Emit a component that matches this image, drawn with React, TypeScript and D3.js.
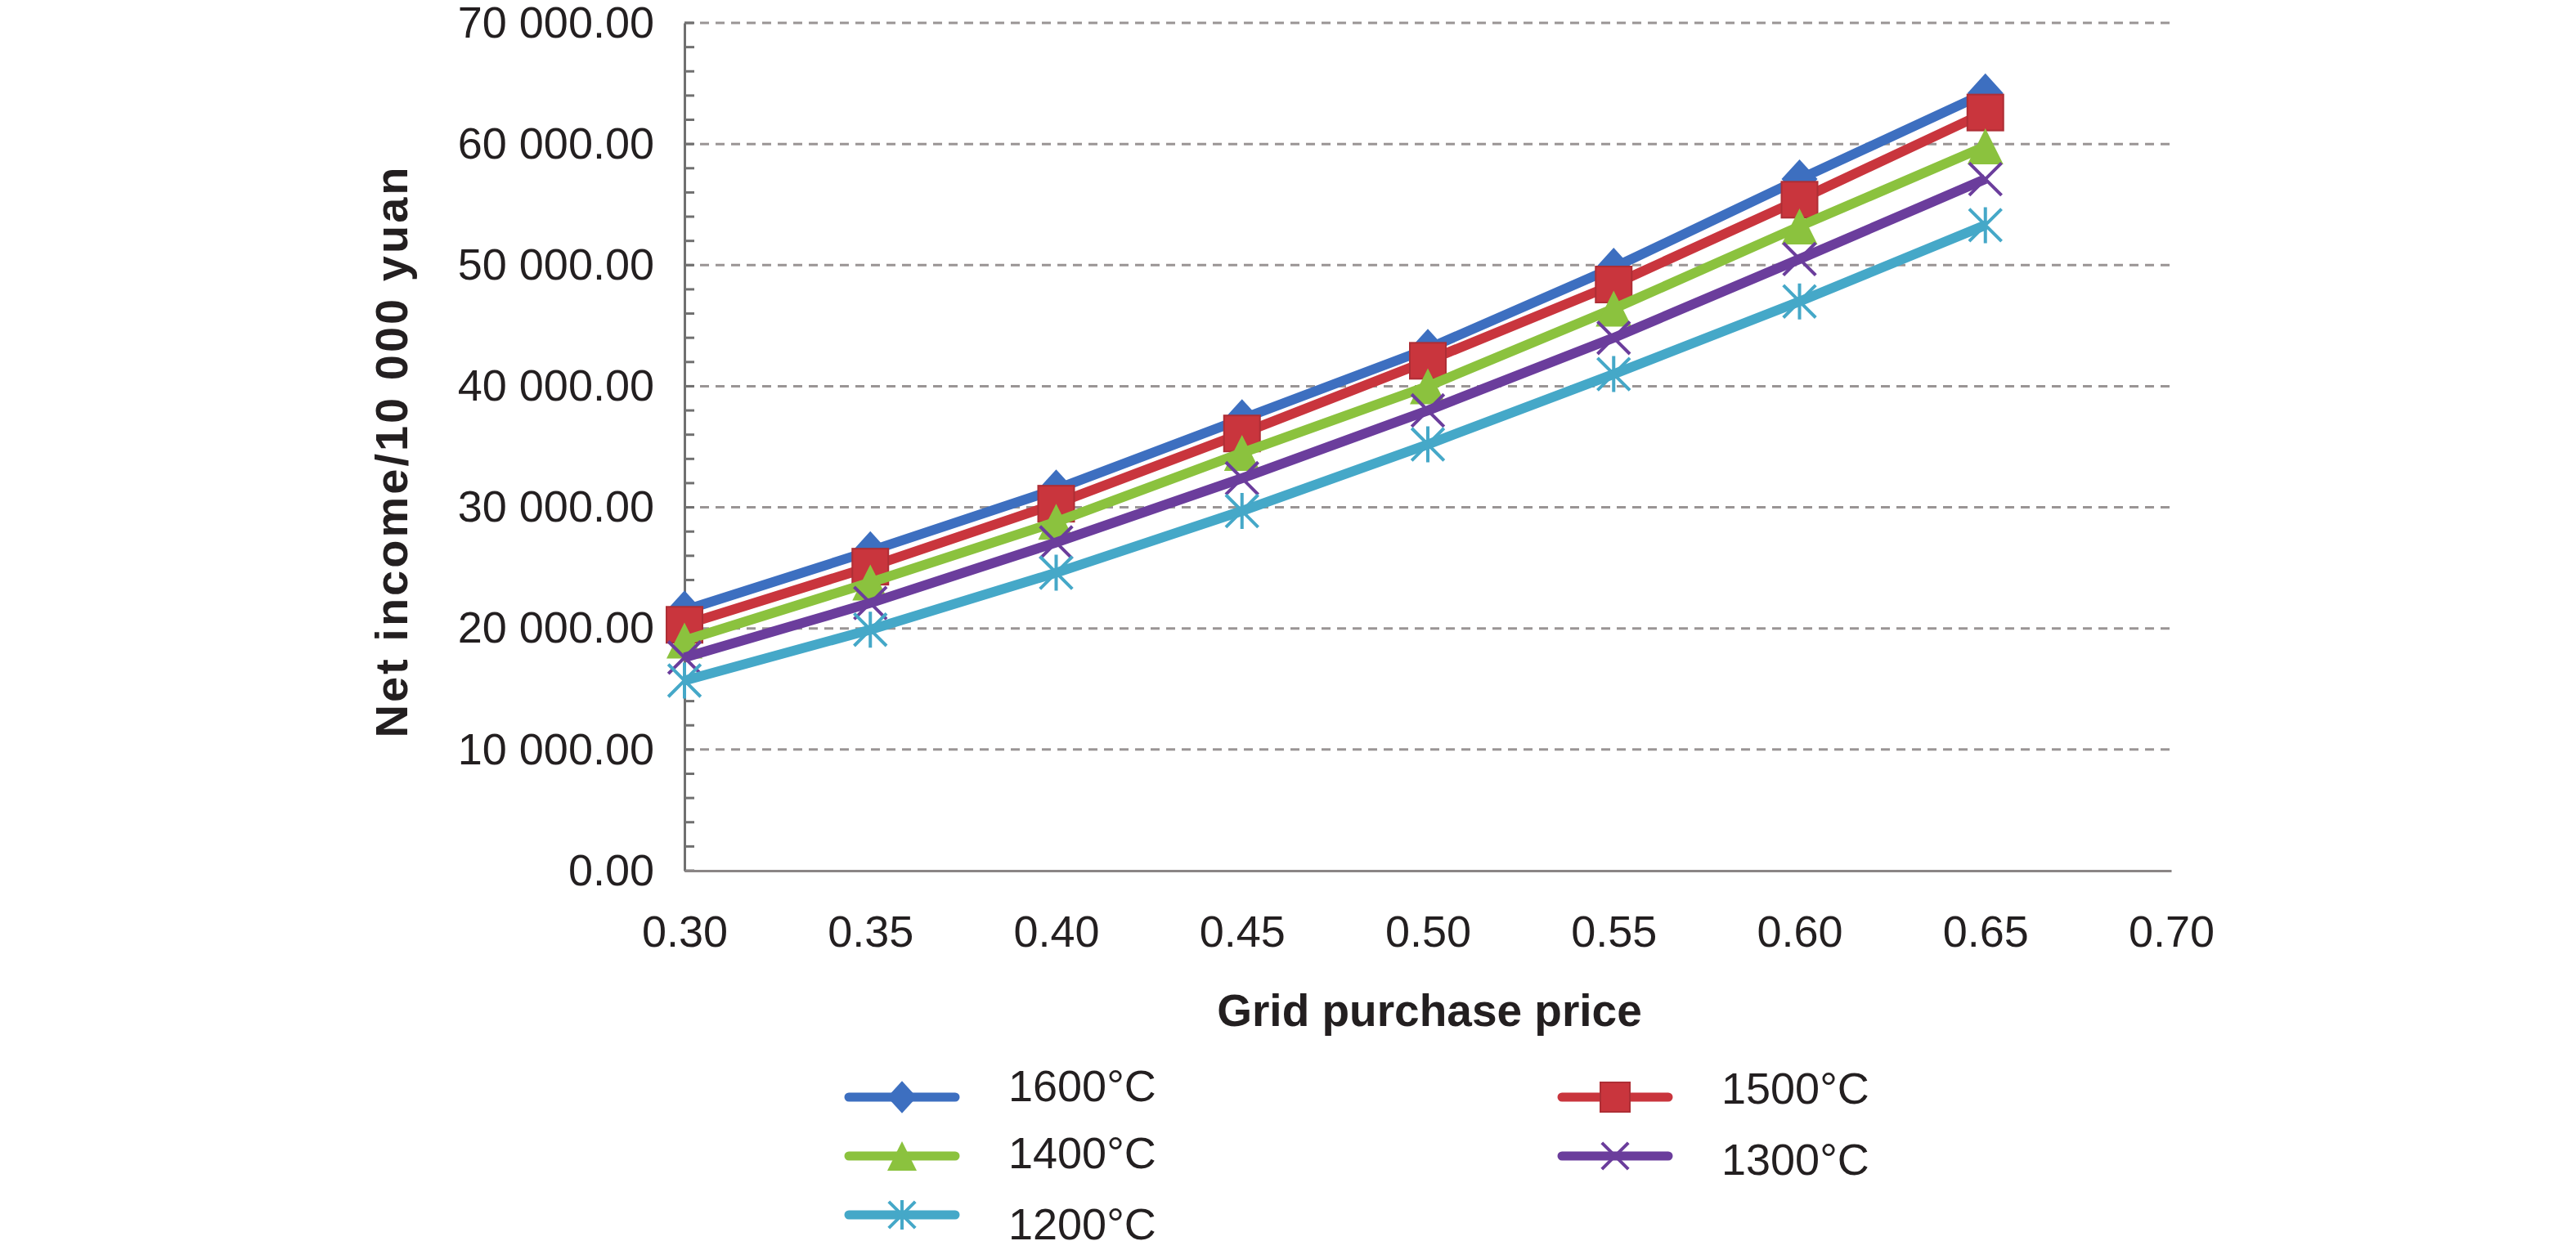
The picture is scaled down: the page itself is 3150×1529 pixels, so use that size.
import React, { useEffect, useRef } from 'react';
import * as d3 from 'd3';

const prices = [0.30, 0.35, 0.40, 0.45, 0.50, 0.55, 0.60, 0.65];
const xTicks = [0.30, 0.35, 0.40, 0.45, 0.50, 0.55, 0.60, 0.65, 0.70];
const yTicks = [0, 10000, 20000, 30000, 40000, 50000, 60000, 70000];

const temps = ['1600°C', '1500°C', '1400°C', '1300°C', '1200°C'];
const income1600 = [21500, 26400, 31500, 37300, 43100, 49800, 57100, 64200];
const income1500 = [20300, 25100, 30300, 36100, 42100, 48400, 55400, 62600];
const income1400 = [19000, 23800, 28800, 34500, 40000, 46400, 53200, 59800];
const income1300 = [17600, 22100, 27100, 32400, 38000, 44000, 50500, 57100];
const income1200 = [15700, 19900, 24600, 29700, 35200, 41000, 47000, 53300];

const colors = ['#3d6fc0', '#c9353d', '#8bc23e', '#6b3d9c', '#45a8c8'];
const shapes = ['diamond', 'square', 'triangle', 'cross', 'star'];

const FONT = '"Liberation Sans", Arial, sans-serif';

const App = () => {
  const ref = useRef(null);

  useEffect(() => {
    draw();
  }, []);

  const drawMarker = (g, shape, color, x, y, s) => {
    const h = s / 2;
    if (shape === 'diamond') {
      g.append('path')
        .attr('d', `M${x},${y - h * 1.1} L${x + h},${y} L${x},${y + h * 1.1} L${x - h},${y} Z`)
        .attr('fill', color);
    } else if (shape === 'square') {
      g.append('rect')
        .attr('x', x - h).attr('y', y - h)
        .attr('width', s).attr('height', s)
        .attr('fill', color)
        .attr('stroke', d3.color(color).darker(0.4))
        .attr('stroke-width', 2);
    } else if (shape === 'triangle') {
      g.append('path')
        .attr('d', `M${x},${y - h} L${x + h},${y + h} L${x - h},${y + h} Z`)
        .attr('fill', color);
    } else {
      const k = h * 0.9;
      let d = `M${x - k},${y - k} L${x + k},${y + k} M${x - k},${y + k} L${x + k},${y - k}`;
      if (shape === 'star') d += ` M${x},${y - h} L${x},${y + h}`;
      g.append('path')
        .attr('d', d)
        .attr('stroke', color)
        .attr('stroke-width', 4)
        .attr('fill', 'none');
    }
  };

  const draw = () => {
    const svg = d3.select(ref.current);
    svg.selectAll('*').remove();

    const left = 837, right = 2655, top = 28, bottom = 1065;

    const x = d3.scaleLinear().domain([0.30, 0.70]).range([left, right]);
    const y = d3.scaleLinear().domain([0, 70000]).range([bottom, top]);

    // grid
    svg.append('g')
      .selectAll('line')
      .data(yTicks.filter(t => t > 0))
      .join('line')
      .attr('x1', left).attr('x2', right)
      .attr('y1', d => y(d)).attr('y2', d => y(d))
      .attr('stroke', '#9a9595')
      .attr('stroke-width', 3)
      .attr('stroke-dasharray', '11,8');

    // minor ticks on y axis
    const minor = d3.range(0, 70001, 2000);
    svg.append('g')
      .selectAll('line')
      .data(minor)
      .join('line')
      .attr('x1', left).attr('x2', left + 12)
      .attr('y1', d => y(d)).attr('y2', d => y(d))
      .attr('stroke', '#707070')
      .attr('stroke-width', 3);

    // y axis
    const yAxis = d3.axisLeft(y)
      .tickValues(yTicks)
      .tickSize(0)
      .tickPadding(37)
      .tickFormat(d => d3.format(',.2f')(d).replace(/,/g, ' '));
    const gy = svg.append('g').attr('transform', `translate(${left},0)`).call(yAxis);
    gy.select('.domain').attr('stroke', '#707070').attr('stroke-width', 3);
    gy.selectAll('text')
      .attr('font-family', FONT)
      .attr('font-size', 54)
      .attr('fill', '#231f20');

    // x axis
    const xAxis = d3.axisBottom(x)
      .tickValues(xTicks)
      .tickSize(0)
      .tickPadding(55)
      .tickFormat(d3.format('.2f'));
    const gx = svg.append('g').attr('transform', `translate(0,${bottom})`).call(xAxis);
    gx.select('.domain').attr('stroke', '#8a8585').attr('stroke-width', 3);
    gx.selectAll('text')
      .attr('font-family', FONT)
      .attr('font-size', 54)
      .attr('fill', '#231f20');

    // axis titles
    svg.append('text')
      .attr('transform', 'translate(478,552) rotate(-90)')
      .attr('text-anchor', 'middle')
      .attr('dominant-baseline', 'central')
      .attr('font-family', FONT)
      .attr('font-weight', 'bold')
      .attr('font-size', 56)
      .attr('letter-spacing', 3)
      .attr('fill', '#231f20')
      .text('Net income/10 000 yuan');

    svg.append('text')
      .attr('x', 1748).attr('y', 1236)
      .attr('text-anchor', 'middle')
      .attr('dominant-baseline', 'central')
      .attr('font-family', FONT)
      .attr('font-weight', 'bold')
      .attr('font-size', 55)
      .attr('fill', '#231f20')
      .text('Grid purchase price');

    // series
    const series = [income1600, income1500, income1400, income1300, income1200];
    const line = d3.line().x((d, i) => x(prices[i])).y(d => y(d));

    series.forEach((vals, si) => {
      const g = svg.append('g');
      g.append('path')
        .datum(vals)
        .attr('d', line)
        .attr('fill', 'none')
        .attr('stroke', colors[si])
        .attr('stroke-width', 12)
        .attr('stroke-linejoin', 'round');
      vals.forEach((v, i) => drawMarker(g, shapes[si], colors[si], x(prices[i]), y(v), 44));
    });

    // legend
    const legendPos = [
      { lx: 1038, ly: 1342, ty: 1328 },
      { lx: 1910, ly: 1342, ty: 1331 },
      { lx: 1038, ly: 1414, ty: 1410 },
      { lx: 1910, ly: 1414, ty: 1418 },
      { lx: 1038, ly: 1486, ty: 1497 },
    ];
    temps.forEach((t, i) => {
      const p = legendPos[i];
      const g = svg.append('g');
      g.append('line')
        .attr('x1', p.lx).attr('x2', p.lx + 130)
        .attr('y1', p.ly).attr('y2', p.ly)
        .attr('stroke', colors[i])
        .attr('stroke-width', 11)
        .attr('stroke-linecap', 'round');
      drawMarker(g, shapes[i], colors[i], p.lx + 65, p.ly, 36);
      g.append('text')
        .attr('x', p.lx + 195).attr('y', p.ty)
        .attr('dominant-baseline', 'central')
        .attr('font-family', FONT)
        .attr('font-size', 54)
        .attr('fill', '#231f20')
        .text(t);
    });
  };

  return (
    <svg
      ref={ref}
      width="3150"
      height="1529"
      style={{ position: 'absolute', left: 0, top: 0, background: '#fff' }}
    ></svg>
  );
};

export default App;
